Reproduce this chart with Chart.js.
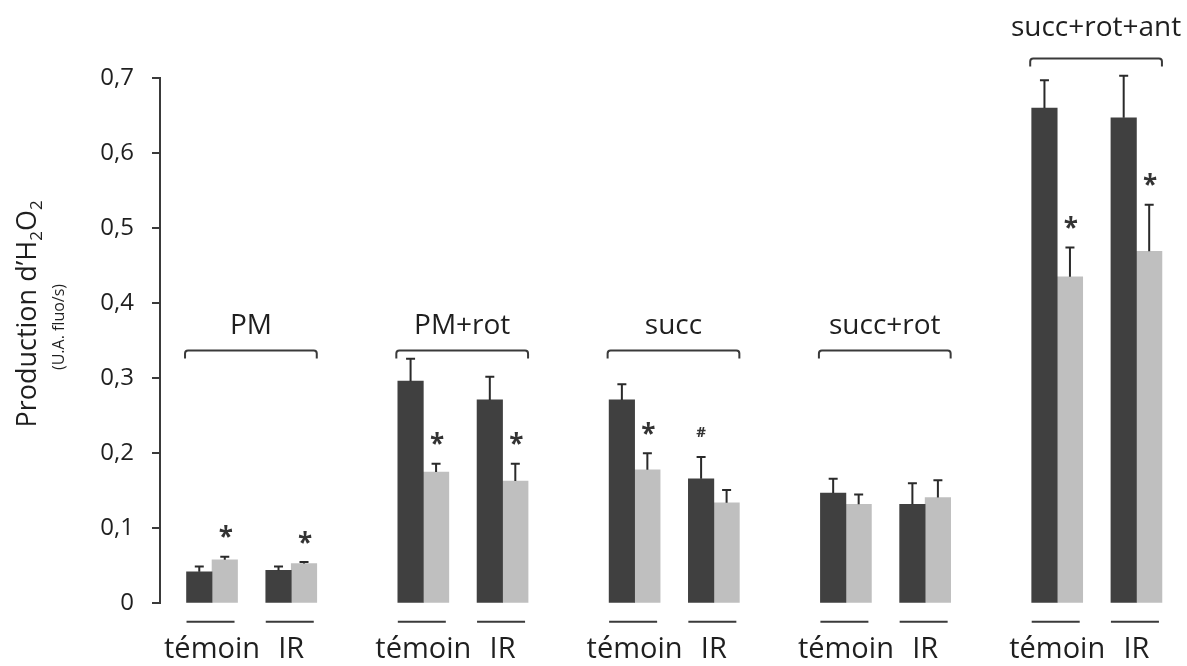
<!DOCTYPE html>
<html>
<head>
<meta charset="utf-8">
<script src="https://cdn.jsdelivr.net/npm/chart.js@4.4.1/dist/chart.umd.min.js"></script>
<style>
  html, body { margin: 0; padding: 0; background: #ffffff; }
  #wrap { width: 1187px; height: 666px; }
</style>
</head>
<body>
<div id="wrap"><canvas id="c" width="1187" height="666"></canvas></div>
<script>
// Substrate groups and the two conditions measured in each
const substrates = ['PM', 'PM+rot', 'succ', 'succ+rot', 'succ+rot+ant'];
const conditions = ['témoin', 'IR'];

// H2O2 production (U.A. fluo/s), one value per substrate × condition
const darkMeans   = [0.042, 0.044, 0.296, 0.271, 0.271, 0.166, 0.147, 0.132, 0.660, 0.647];
const darkErrors  = [0.007, 0.005, 0.030, 0.031, 0.021, 0.029, 0.019, 0.028, 0.037, 0.056];
const lightMeans  = [0.058, 0.053, 0.175, 0.163, 0.178, 0.134, 0.132, 0.141, 0.435, 0.469];
const lightErrors = [0.004, 0.002, 0.011, 0.023, 0.022, 0.017, 0.013, 0.023, 0.039, 0.062];

// Significance marks above each bar
const darkMarks  = ['', '', '', '', '', '#', '', '', '', ''];
const lightMarks = ['*', '*', '*', '*', '*', '', '', '', '*', '*'];

// Y axis tick values
const yTicks = [0, 0.1, 0.2, 0.3, 0.4, 0.5, 0.6, 0.7];

// ---- layout helpers (not data) ----
const PAIR_STEP = 3, GROUP_STEP = 8;
const positions = [];
substrates.forEach((s, g) => conditions.forEach((c, k) => positions.push(g * GROUP_STEP + k * PAIR_STEP)));
const BAR_W = 25.5;
const bracketLevel = [0.337, 0.337, 0.337, 0.337, 0.726];
const bracketLabelGap = [17, 17, 17, 17, 23];
const INK = '#1f1f1f';
const LINE = '#3a3a3a';
const FONT = "'Open Sans', 'Noto Sans', sans-serif";

const fmt = v => v === 0 ? '0' : v.toFixed(1).replace('.', ',');

const decorations = {
  id: 'decorations',
  afterDraw(chart) {
    const ctx = chart.ctx;
    const xs = chart.scales.x, ys = chart.scales.y;
    const area = chart.chartArea;
    ctx.save();

    // error bars and significance marks
    const sets = [
      { errs: darkErrors, means: darkMeans, marks: darkMarks },
      { errs: lightErrors, means: lightMeans, marks: lightMarks }
    ];
    sets.forEach((set, di) => {
      const meta = chart.getDatasetMeta(di);
      meta.data.forEach((bar, i) => {
        const x = bar.x;
        const yTop = ys.getPixelForValue(set.means[i]);
        const yErr = ys.getPixelForValue(set.means[i] + set.errs[i]);
        ctx.strokeStyle = '#2a2a2a';
        ctx.lineWidth = 2;
        ctx.beginPath();
        ctx.moveTo(x, yTop);
        ctx.lineTo(x, yErr);
        ctx.moveTo(x - 4.5, yErr);
        ctx.lineTo(x + 4.5, yErr);
        ctx.stroke();
        const m = set.marks[i];
        if (m) {
          const size = m === '#' ? 15 : 26;
          ctx.font = `bold ${size}px ${FONT}`;
          ctx.fillStyle = '#333333';
          ctx.textAlign = 'center';
          ctx.textBaseline = 'alphabetic';
          const tm = ctx.measureText(m);
          const cy = yErr - 25;
          const base = cy + (tm.actualBoundingBoxAscent - tm.actualBoundingBoxDescent) / 2;
          ctx.fillText(m, x + (di === 0 ? 0 : 1), base);
        }
      });
    });

    // brackets with substrate names
    substrates.forEach((name, g) => {
      const left = xs.getPixelForValue(g * GROUP_STEP) - BAR_W - 1.5;
      const right = xs.getPixelForValue(g * GROUP_STEP + PAIR_STEP) + BAR_W;
      const y = Math.round(ys.getPixelForValue(bracketLevel[g])) + 0.5;
      const drop = 8, r = 3;
      ctx.strokeStyle = LINE;
      ctx.lineWidth = 2;
      ctx.beginPath();
      ctx.moveTo(left, y + drop);
      ctx.lineTo(left, y + r);
      ctx.quadraticCurveTo(left, y, left + r, y);
      ctx.lineTo(right - r, y);
      ctx.quadraticCurveTo(right, y, right, y + r);
      ctx.lineTo(right, y + drop);
      ctx.stroke();
      ctx.font = `28px ${FONT}`;
      ctx.fillStyle = INK;
      ctx.textAlign = 'center';
      ctx.textBaseline = 'alphabetic';
      ctx.fillText(name, (left + right) / 2, y - bracketLabelGap[g]);
    });

    // short rules under each pair of bars
    positions.forEach(p => {
      const cx = xs.getPixelForValue(p) - 1.5;
      const y = area.bottom + 18.5;
      ctx.strokeStyle = LINE;
      ctx.lineWidth = 2;
      ctx.beginPath();
      ctx.moveTo(cx - 24, y);
      ctx.lineTo(cx + 24, y);
      ctx.stroke();
    });

    // rotated y axis title with subscripts
    ctx.fillStyle = INK;
    ctx.textBaseline = 'alphabetic';
    ctx.textAlign = 'left';
    const pieces = [
      { t: 'Production d’H', size: 27, dy: 0 },
      { t: '2', size: 17, dy: 6 },
      { t: 'O', size: 27, dy: 0 },
      { t: '2', size: 17, dy: 6 }
    ];
    let total = 0;
    pieces.forEach(p => { ctx.font = `${p.size}px ${FONT}`; p.w = ctx.measureText(p.t).width; total += p.w; });
    ctx.save();
    ctx.translate(36, 314);
    ctx.rotate(-Math.PI / 2);
    let px = -total / 2;
    pieces.forEach(p => {
      ctx.font = `${p.size}px ${FONT}`;
      ctx.fillText(p.t, px, p.dy);
      px += p.w;
    });
    ctx.restore();

    ctx.save();
    ctx.translate(64, 327);
    ctx.rotate(-Math.PI / 2);
    ctx.font = `16px ${FONT}`;
    ctx.textAlign = 'center';
    ctx.fillText('(U.A. fluo/s)', 0, 0);
    ctx.restore();

    ctx.restore();
  }
};

new Chart(document.getElementById('c'), {
  type: 'bar',
  data: {
    datasets: [
      {
        label: 'foncé',
        data: positions.map((x, i) => ({ x, y: darkMeans[i] })),
        backgroundColor: '#404040',
        borderWidth: 0,
        barThickness: BAR_W
      },
      {
        label: 'clair',
        data: positions.map((x, i) => ({ x, y: lightMeans[i] })),
        backgroundColor: '#bfbfbf',
        borderWidth: 0,
        barThickness: BAR_W
      }
    ]
  },
  options: {
    responsive: false,
    animation: false,
    events: [],
    layout: { padding: { top: 78, right: 12, bottom: 0, left: 0 } },
    plugins: { legend: { display: false }, tooltip: { enabled: false } },
    scales: {
      x: {
        type: 'linear',
        min: -1.97,
        max: 36.46,
        offset: false,
        grid: { display: false, drawTicks: false },
        border: { display: false },
        afterBuildTicks: s => { s.ticks = positions.map(v => ({ value: v })); },
        afterFit: s => { s.height = 62.7; },
        ticks: {
          autoSkip: false,
          maxRotation: 0,
          padding: 29.5,
          color: INK,
          font: { family: FONT, size: 29, lineHeight: 1.15 },
          callback: (v, i) => conditions[i % conditions.length]
        }
      },
      y: {
        min: 0,
        max: 0.7,
        afterBuildTicks: s => { s.ticks = yTicks.map(v => ({ value: v })); },
        afterFit: s => { s.width = 160; },
        grid: { drawOnChartArea: false, drawTicks: true, tickLength: 8, color: LINE, lineWidth: 2 },
        border: { display: true, color: LINE, width: 2 },
        ticks: {
          padding: 18,
          color: INK,
          font: { family: FONT, size: 24 },
          callback: v => fmt(v)
        }
      }
    }
  },
  plugins: [decorations]
});
</script>
</body>
</html>
